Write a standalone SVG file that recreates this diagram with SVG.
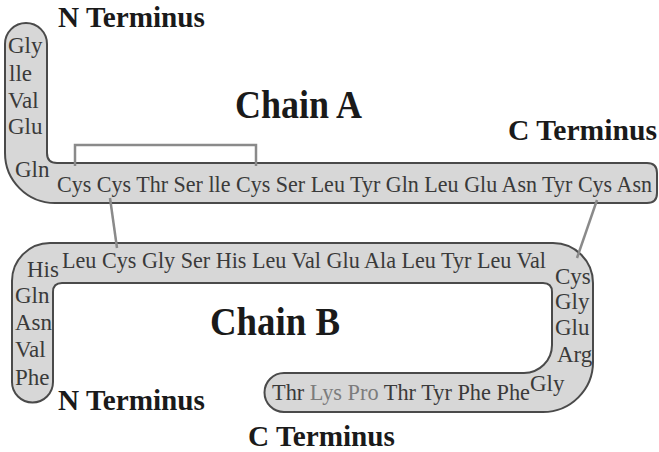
<svg xmlns="http://www.w3.org/2000/svg" width="659" height="452" viewBox="0 0 659 452">
<style>
.tube{fill:#d7d7d7;stroke:#4a4a4a;stroke-width:2}
.aa{font-family:"Liberation Serif","Times New Roman",serif;font-size:23px;fill:#3a3a3a}
.lt{fill:#7c7c7c}
.hd{font-family:"Liberation Serif","Times New Roman",serif;font-weight:bold;fill:#1a1a1a}
.term{font-size:29px}
.chain{font-size:41px}
.ss{fill:none;stroke:#8a8a8a;stroke-width:2.5}
</style>
<rect width="659" height="452" fill="#ffffff"/>
<g id="chainA">
<path class="tube" d="M5,44 A21,21 0 0 1 47,44 L47,153 Q47,163 57,163 L647,163 Q657,163 657,173 L657,193 Q657,203 647,203 L55,203 A50,50 0 0 1 5,153 Z"/>
<text class="aa" x="8" y="53">Gly</text>
<text class="aa" x="9" y="81">lle</text>
<text class="aa" x="8" y="108">Val</text>
<text class="aa" x="8" y="134">Glu</text>
<text class="aa" x="15" y="177">Gln</text>
<text class="aa" x="57" y="192" textLength="595" lengthAdjust="spacingAndGlyphs">Cys Cys Thr Ser lle Cys Ser Leu Tyr Gln Leu Glu Asn Tyr Cys Asn</text>
</g>
<g id="chainB">
<path class="tube" d="M12,281 A38,38 0 0 1 50,243 L553,243 A40,40 0 0 1 593,283 L593,362 A50,50 0 0 1 543,412 L284,412 A19.5,19.5 0 0 1 284,373 L524,373 A28,28 0 0 0 552,345 L552,292 Q552,283 543,283 L62,283 Q53,283 53,292 L53,382 A20.5,20.5 0 0 1 12,382 Z"/>
<text class="aa" x="27" y="277">His</text>
<text class="aa" x="15" y="303">Gln</text>
<text class="aa" x="15" y="330">Asn</text>
<text class="aa" x="15" y="357">Val</text>
<text class="aa" x="15" y="385">Phe</text>
<text class="aa" x="62" y="268" textLength="484" lengthAdjust="spacingAndGlyphs">Leu Cys Gly Ser His Leu Val Glu Ala Leu Tyr Leu Val</text>
<text class="aa" x="555" y="284">Cys</text>
<text class="aa" x="555" y="309">Gly</text>
<text class="aa" x="555" y="335">Glu</text>
<text class="aa" x="557" y="362">Arg</text>
<text class="aa" x="530" y="391">Gly</text>
<text class="aa" x="272" y="400" textLength="258" lengthAdjust="spacingAndGlyphs">Thr <tspan class="lt">Lys Pro</tspan> Thr Tyr Phe Phe</text>
</g>
<g id="connectors">
<path class="ss" d="M75,166 L75,145 L256,145 L256,166"/>
<path class="ss" d="M110,198 L117,248"/>
<path class="ss" d="M597,200 L577,258"/>
</g>
<g id="labels">
<text class="hd term" x="58" y="27" textLength="147" lengthAdjust="spacingAndGlyphs">N Terminus</text>
<text class="hd chain" x="235" y="118" textLength="127" lengthAdjust="spacingAndGlyphs">Chain A</text>
<text class="hd term" x="508" y="140" textLength="149" lengthAdjust="spacingAndGlyphs">C Terminus</text>
<text class="hd chain" x="210" y="335" textLength="130" lengthAdjust="spacingAndGlyphs">Chain B</text>
<text class="hd term" x="58" y="410" textLength="147" lengthAdjust="spacingAndGlyphs">N Terminus</text>
<text class="hd term" x="248" y="446" textLength="147" lengthAdjust="spacingAndGlyphs">C Terminus</text>
</g>
</svg>
